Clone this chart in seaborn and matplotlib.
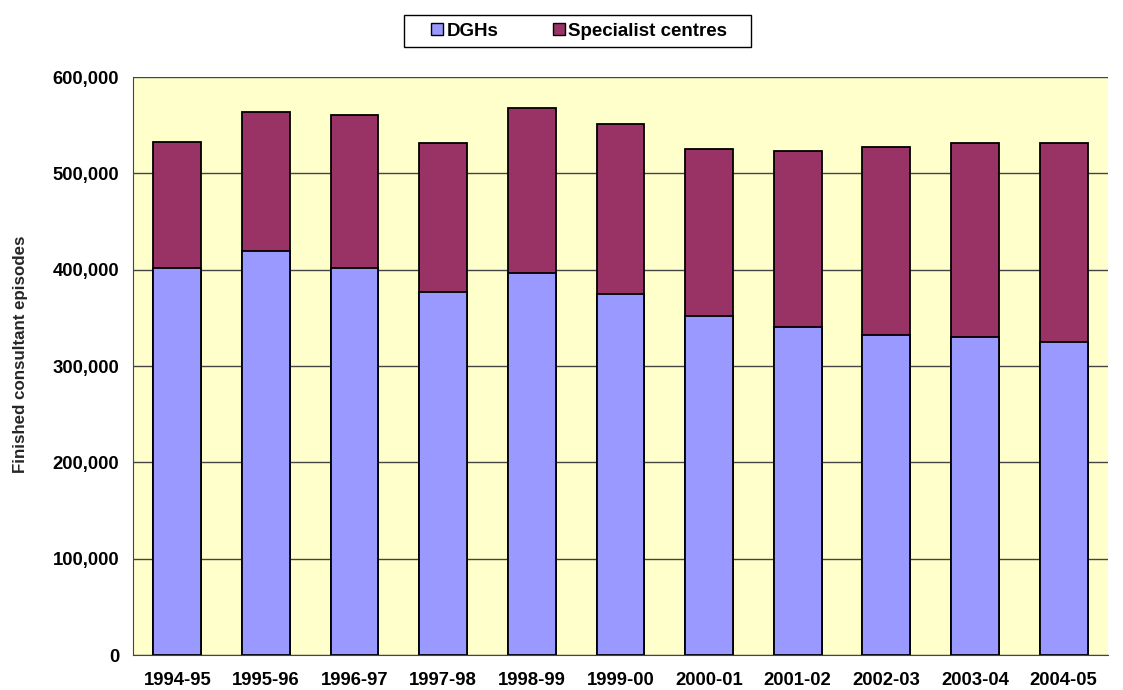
#!/usr/bin/env python
# encoding: utf-8

import pandas as pd
import matplotlib
matplotlib.use('Agg')
import matplotlib.pyplot as plt
from matplotlib.patches import Patch, Rectangle
from matplotlib.ticker import FuncFormatter, FixedLocator
import seaborn as sns


years = ['1994-95', '1995-96', '1996-97', '1997-98', '1998-99', '1999-00',
         '2000-01', '2001-02', '2002-03', '2003-04', '2004-05']
dghs = [401800, 419500, 401800, 376800, 396300, 374400,
        352100, 340300, 332000, 329600, 325000]
totals = [532300, 564000, 560400, 531000, 567400, 551500,
          525700, 522900, 527500, 531000, 531600]

DGH_COL = '#9999FF'
SPEC_COL = '#993366'


def main():
    df = pd.DataFrame({'year': years, 'dgh': dghs, 'total': totals})

    sns.set_style('white')
    plt.rcParams['font.family'] = ['Liberation Sans', 'DejaVu Sans']
    plt.rcParams['font.weight'] = 'bold'
    plt.rcParams['text.color'] = 'black'
    plt.rcParams['xtick.color'] = 'black'
    plt.rcParams['ytick.color'] = 'black'

    fig = plt.figure(figsize=(11.23, 6.9), dpi=100)
    ax = fig.add_axes([0.1184, 0.0507, 0.8682, 0.8377])
    ax.set_facecolor('#FFFFCC')

    # specialist centres stacked on top: draw the total first, then DGHs over it
    sns.barplot(x='year', y='total', data=df, color=SPEC_COL, saturation=1,
                edgecolor='black', linewidth=1.3, width=0.54, ax=ax)
    sns.barplot(x='year', y='dgh', data=df, color=DGH_COL, saturation=1,
                edgecolor='black', linewidth=1.3, width=0.54, ax=ax)

    ax.set_xlim(-0.5, len(years) - 0.5)
    ax.set_ylim(0, 600000)
    ax.set_yticks(range(0, 600001, 100000))
    ax.yaxis.set_major_formatter(FuncFormatter(lambda v, p: '{:,.0f}'.format(v)))
    ax.yaxis.grid(True, color='#444444', linewidth=1)
    ax.set_axisbelow(True)

    # tick marks between categories like the original
    ax.xaxis.set_minor_locator(FixedLocator([i - 0.5 for i in range(len(years) + 1)]))
    ax.tick_params(axis='x', which='major', length=0, pad=12, labelsize=13.3)
    ax.tick_params(axis='x', which='minor', length=6, width=1, color='#444444', direction='out')
    ax.tick_params(axis='y', length=6, width=1, color='#444444', direction='out', labelsize=13.3, pad=4)
    for lbl in ax.get_xticklabels() + ax.get_yticklabels():
        lbl.set_fontweight('bold')

    sns.despine(ax=ax, top=True, right=True)
    ax.spines['left'].set_color('#444444')
    ax.spines['bottom'].set_color('#444444')

    ax.set_xlabel('')
    ax.set_ylabel('Finished consultant episodes', fontsize=12.2, fontweight='bold')
    ax.yaxis.set_label_coords(-0.108, 0.521)

    # legend box drawn by hand to get the wide side padding
    fig.patches.append(Rectangle((404 / 1123, 1 - 47 / 690), 347 / 1123, 32 / 690,
                                 transform=fig.transFigure, fill=False,
                                 edgecolor='black', linewidth=1))
    handles = [Patch(facecolor=DGH_COL, edgecolor='black', label='DGHs'),
               Patch(facecolor=SPEC_COL, edgecolor='black', label='Specialist centres')]
    fig.legend(handles=handles, loc='center', bbox_to_anchor=(0.5155, 0.955),
               ncol=2, frameon=False, prop={'size': 13.5, 'weight': 'bold'},
               handlelength=0.65, handleheight=0.65, handletextpad=0.15,
               columnspacing=2.9, borderpad=0)

    fig.savefig('out.png', dpi=100, facecolor='white')


if __name__ == '__main__':
    main()
